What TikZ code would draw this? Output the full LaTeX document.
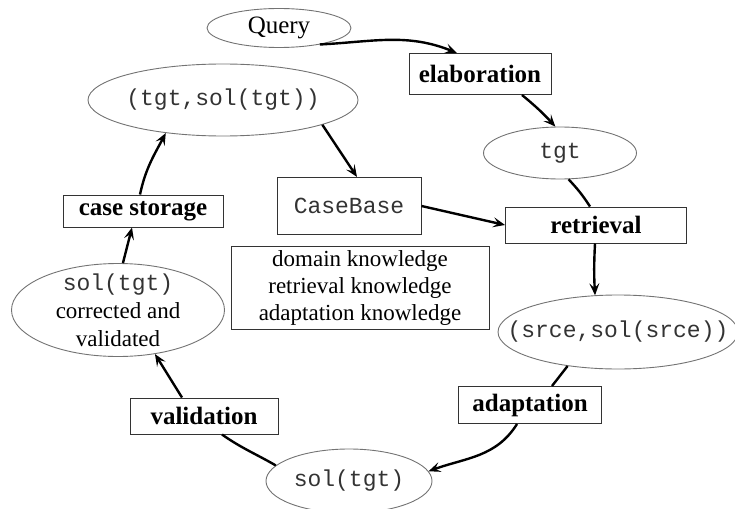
\documentclass[tikz,border=0pt]{standalone}
\usepackage{fontspec}
\setmainfont{Liberation Serif}
\setmonofont{Liberation Mono}
\usetikzlibrary{shapes.geometric,arrows.meta}
\begin{document}
\begin{tikzpicture}[x=1pt,y=1pt,
 ell/.style={ellipse,draw=black!55,line width=0.9pt,inner sep=-20pt},
 box/.style={rectangle,draw=black!80,line width=1pt,inner sep=0pt},
 lab/.style={box,font=\fontsize{25}{28}\selectfont\bfseries},
 mono/.style={font=\fontsize{23}{27}\selectfont\ttfamily,text=black!80},
 flow/.style={line width=2.4pt,-{Stealth[length=12pt,width=10pt,inset=5pt]}},
 link/.style={line width=2.4pt}]
\useasboundingbox (0,0) rectangle (735,-508);
% nodes
\node[ell,minimum width=144pt,minimum height=39pt,font=\fontsize{25}{28}\selectfont] (Q) at (279,-28) {Query};
\node[lab,minimum width=142pt,minimum height=41pt] (E) at (480,-74) {elaboration};
\node[ell,mono,minimum width=270pt,minimum height=72pt] (A) at (223,-100) {(tgt,sol(tgt))};
\node[ell,mono,minimum width=153pt,minimum height=52pt] (T) at (560,-153) {tgt};
\node[box,mono,minimum width=144pt,minimum height=57pt] (C) at (349,-206) {CaseBase};
\node[lab,minimum width=181pt,minimum height=36pt] (R) at (596,-225) {retrieval};
\node[box,minimum width=258pt,minimum height=83pt,align=center,font=\fontsize{23}{27}\selectfont] (K) at (360,-288) {\raisebox{-3pt}{domain knowledge}\\\raisebox{-3pt}{retrieval knowledge}\\\raisebox{-3pt}{adaptation knowledge}};
\node[ell,mono,inner xsep=-60pt,minimum width=240pt,minimum height=74pt] (S) at (618,-332) {(srce,sol(srce))};
\node[lab,minimum width=160pt,minimum height=32pt] (G) at (143,-211) {case storage};
\node[ell,minimum width=213pt,minimum height=93pt,align=center,font=\fontsize{23}{28}\selectfont] (V2) at (118,-310) {{\ttfamily\color{black!80}sol(tgt)}\\corrected and\\validated};
\node[lab,minimum width=148pt,minimum height=36pt] (V) at (204,-416) {validation};
\node[lab,minimum width=143pt,minimum height=37pt] (D) at (530,-405) {adaptation};
\node[ell,mono,minimum width=166pt,minimum height=64pt] (B) at (349,-481) {sol(tgt)};
% connectors
\draw[flow] (Q.-22) to[out=3,in=158] ([xshift=-23pt]E.north);
\draw[flow] ([xshift=42pt]E.south) to[bend left=4] (T.100);
\draw[link] (T.-72) to[bend left=5] ([xshift=-6pt]R.north);
\draw[flow] ([xshift=-1pt]R.south) to[bend right=3] (S.122);
\draw[flow] (C.east) -- (R.west);
\draw[flow] (A.-14) -- ([xshift=8pt]C.north);
\draw[link] (S.214) -- ([xshift=22pt]D.north);
\draw[flow] ([xshift=-13pt]D.south) to[out=-122,in=20] (B.7);
\draw[link] (B.168) to[out=150,in=-35] ([xshift=18pt]V.south);
\draw[flow] ([xshift=-22pt]V.north) to[out=122,in=-58] (V2.-50);
\draw[flow] (V2.84) -- ([xshift=-11pt]G.south);
\draw[flow] ([xshift=-3pt]G.north) to[out=78,in=-118] (A.210);
\end{tikzpicture}
\end{document}
